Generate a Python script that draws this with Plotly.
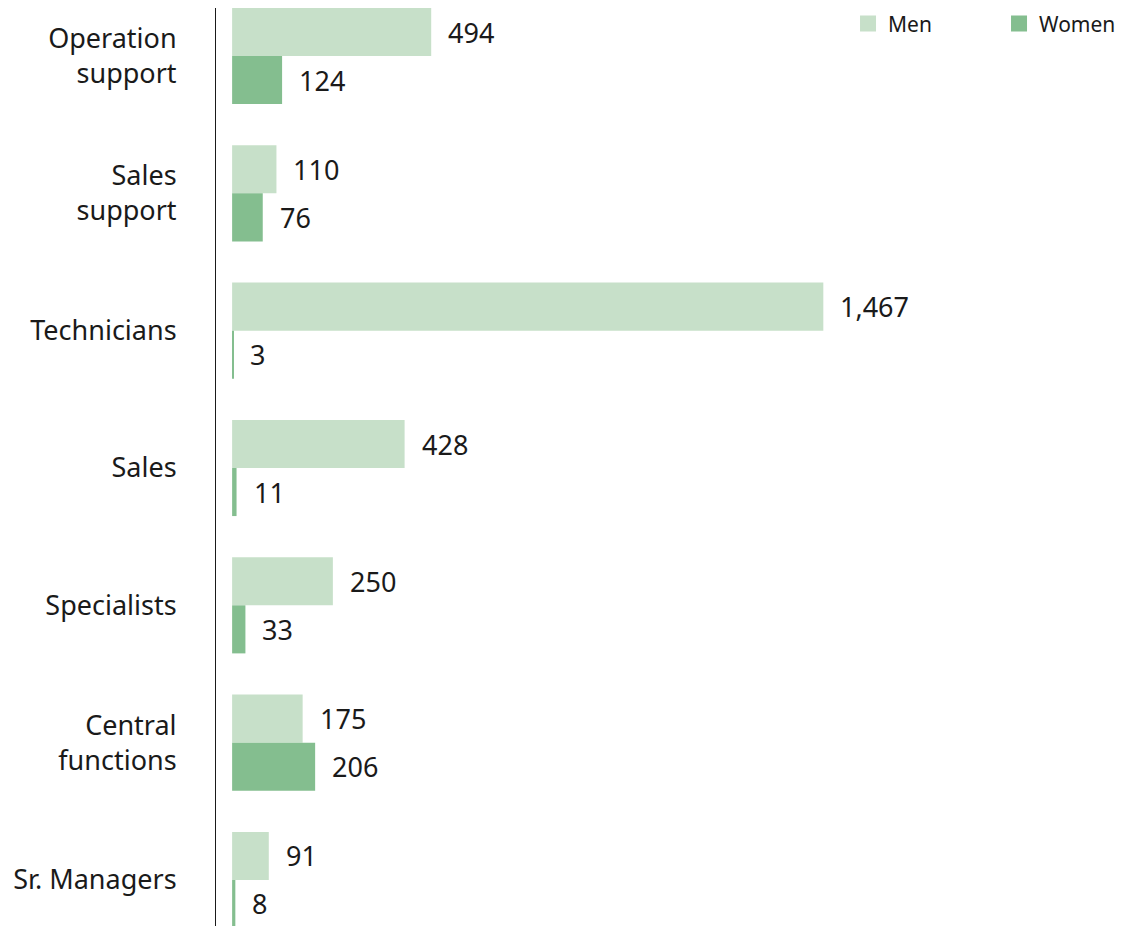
import plotly.graph_objects as go

categories = ["Operation<br>support", "Sales<br>support", "Technicians", "Sales",
              "Specialists", "Central<br>functions", "Sr. Managers"]
men = [494, 110, 1467, 428, 250, 175, 91]
women = [124, 76, 3, 11, 33, 206, 8]

MEN_COLOR = "#C7E0C9"
WOMEN_COLOR = "#84BE8F"
TEXT = "#1a1a1a"
FONT = "Noto Sans"

fig = go.Figure()
fig.add_trace(go.Bar(y=categories, x=men, name="Men", orientation="h",
                     marker=dict(color=MEN_COLOR, line=dict(width=0)),
                     offsetgroup="men", showlegend=False))
fig.add_trace(go.Bar(y=categories, x=women, name="Women", orientation="h",
                     marker=dict(color=WOMEN_COLOR, line=dict(width=0)),
                     offsetgroup="women", showlegend=False))
# legend-only entries with larger square swatches, one legend each
for name, col, lg in [("Men", MEN_COLOR, "legend"), ("Women", WOMEN_COLOR, "legend2")]:
    fig.add_trace(go.Scatter(x=[None], y=[None], mode="markers", name=name,
                             marker=dict(symbol="square", size=16, color=col),
                             showlegend=True, legend=lg))

for i, c in enumerate(categories):
    fig.add_annotation(x=men[i], y=c, text=f"{men[i]:,}", xanchor="left", yanchor="middle",
                       xshift=15, yshift=24, showarrow=False,
                       font=dict(size=27, color=TEXT, family=FONT))
    fig.add_annotation(x=women[i], y=c, text=f"{women[i]:,}", xanchor="left", yanchor="middle",
                       xshift=15, yshift=-24, showarrow=False,
                       font=dict(size=27, color=TEXT, family=FONT))

legend_common = dict(orientation="v", xref="paper", xanchor="left",
                     yref="paper", yanchor="middle", y=0.9826,
                     font=dict(size=21, color=TEXT, family=FONT),
                     itemwidth=30, bgcolor="rgba(0,0,0,0)", borderwidth=0)

fig.update_layout(
    width=1130, height=926,
    margin=dict(l=216, r=0, t=8, b=0),
    paper_bgcolor="white", plot_bgcolor="white",
    barmode="group", bargap=0.30, bargroupgap=0,
    font=dict(family=FONT, color=TEXT),
    showlegend=True,
    legend=dict(x=0.6915, **legend_common),
    legend2=dict(x=0.8567, **legend_common),
    xaxis=dict(range=[-40, 2228], showgrid=False, zeroline=False, showticklabels=False,
               showline=False, fixedrange=True),
    yaxis=dict(type="category", categoryorder="array", categoryarray=categories,
               range=[6.335, -0.3495], showgrid=False, zeroline=False,
               showline=True, linecolor="#1a1a1a", linewidth=1,
               ticks="", ticklabelstandoff=33,
               tickfont=dict(size=27, color=TEXT, family=FONT)),
)

fig.write_html("out.html")
